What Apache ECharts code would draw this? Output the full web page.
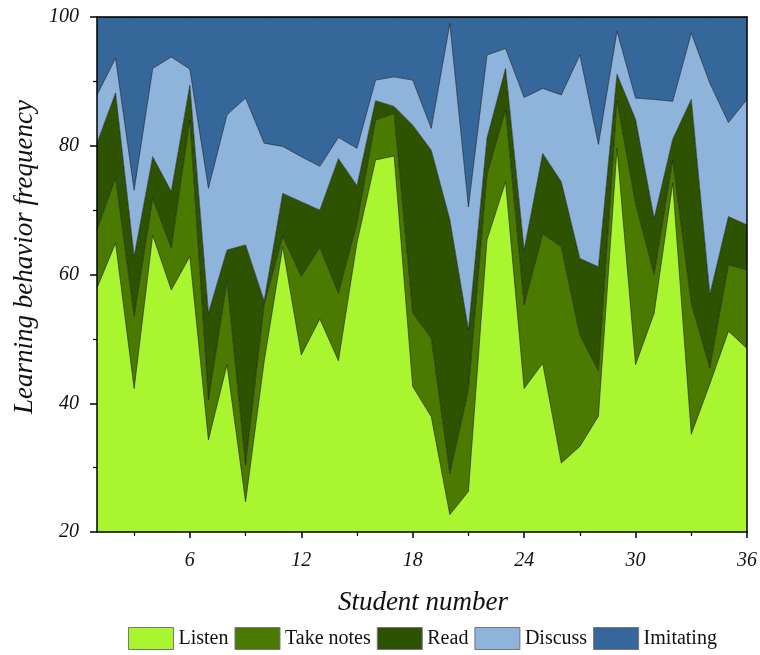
<!DOCTYPE html>
<html>
<head>
<meta charset="utf-8">
<script src="https://cdn.jsdelivr.net/npm/echarts@6/dist/echarts.min.js"></script>
<style>
html,body{margin:0;padding:0;background:#fff;}
#chart{width:760px;height:655px;}
</style>
</head>
<body>
<div id="chart"></div>
<script>
var students = [];
for (var i = 1; i <= 36; i++) students.push(String(i));

var listen    = [57.9,64.9,42.3,66.1,57.6,62.8,34.3,46.0,24.7,46.5,64.3,47.5,53.1,46.6,65.0,77.8,78.4,42.6,37.9,22.7,26.3,65.4,74.4,42.3,46.2,30.7,33.3,38.0,79.6,46.0,54.0,74.2,35.2,43.0,51.2,48.5];
var takeNotes = [9.0,10.1,11.2,5.7,6.5,21.2,6.2,12.9,5.7,8.8,1.6,12.2,11.1,10.5,3.0,6.2,6.6,11.4,12.2,6.4,15.8,10.1,11.2,13.0,20.1,33.6,17.3,7.0,7.4,25.0,6.0,3.6,20.3,2.5,10.3,12.2];
var read      = [13.5,13.2,9.3,6.5,8.8,5.4,13.5,4.9,34.2,0.6,6.7,11.6,5.8,20.9,5.8,3.0,1.1,29.2,29.2,39.4,9.3,5.7,6.4,8.5,12.5,10.1,11.9,16.2,4.1,13.1,8.7,3.2,31.7,11.4,7.5,7.0];
var discuss   = [7.5,5.4,10.3,13.7,20.9,2.5,19.4,21.0,22.8,24.5,7.3,7.0,6.8,3.3,5.8,3.2,4.6,7.0,3.4,30.5,19.1,12.9,3.1,23.7,10.1,13.5,31.6,19.0,6.7,3.3,18.5,5.9,10.3,32.8,14.6,19.5];
var imitating = [12.1,6.4,26.9,8.0,6.2,8.1,26.6,15.2,12.6,19.6,20.1,21.7,23.2,18.7,20.4,9.8,9.3,9.8,17.3,1.0,29.5,5.9,4.9,12.5,11.1,12.1,5.9,19.8,2.2,12.6,12.8,13.1,2.5,10.3,16.4,12.8];

var seriesNames = ['Listen','Take notes','Read','Discuss','Imitating'];
var seriesData = [listen, takeNotes, read, discuss, imitating];
var colors = ['#a9f52f','#4a7b00','#2d5200','#8fb4dc','#35679b'];

var xLabelStep = 6;
var xMinorStep = 3;

var FONT = '"Liberation Serif", "Times New Roman", serif';

var series = seriesData.map(function(arr, k){
  return {
    name: seriesNames[k],
    type: 'line',
    stack: 'total',
    data: arr,
    symbol: 'none',
    smooth: false,
    color: colors[k],
    lineStyle: { width: 0.8, color: 'rgba(20,20,20,0.75)' },
    areaStyle: { color: colors[k], opacity: 1 },
    emphasis: { disabled: true },
    z: 2
  };
});

function isMajor(idx){ return (idx + 1) % xLabelStep === 0; }
function isMinor(idx){ return (idx + 1) % xMinorStep === 0 && !isMajor(idx); }

var chart = echarts.init(document.getElementById('chart'), null, {renderer: 'canvas'});
chart.setOption({
  animation: false,
  backgroundColor: '#ffffff',
  grid: { left: 97, right: 11, top: 17, bottom: 123, containLabel: false },
  graphic: [
    {
      type: 'text', x: 25, y: 257, rotation: Math.PI / 2, z: 10,
      style: { text: 'Learning behavior frequency', font: 'italic 27px ' + FONT, fill: '#111', align: 'center', verticalAlign: 'middle' }
    },
    {
      type: 'text', x: 423, y: 603, z: 10,
      style: { text: 'Student number', font: 'italic 27px ' + FONT, fill: '#111', align: 'center', verticalAlign: 'middle' }
    }
  ],
  legend: {
    data: seriesNames.map(function(n, k){ return { name: n, itemStyle: { color: colors[k], borderColor: '#777', borderWidth: 1 } }; }),
    left: 123, top: 622,
    icon: 'rect',
    itemWidth: 45, itemHeight: 22, itemGap: 6,
    textStyle: { fontFamily: FONT, fontSize: 20, color: '#111' }
  },
  xAxis: [
    {
      type: 'category', data: students, boundaryGap: false, position: 'bottom', z: 5,
      axisLine: { show: true, onZero: false, lineStyle: { color: '#000', width: 1.5 } },
      axisTick: { show: true, interval: function(idx){ return isMajor(idx); }, length: 6, lineStyle: { color: '#000', width: 1.5 } },
      axisLabel: { show: true, interval: function(idx){ return isMajor(idx); }, margin: 19, fontFamily: FONT, fontSize: 20, fontStyle: 'italic', color: '#111' },
      splitLine: { show: false }
    },
    {
      type: 'category', data: students, boundaryGap: false, position: 'bottom', z: 5,
      axisLine: { show: false },
      axisTick: { show: true, interval: function(idx){ return isMinor(idx); }, length: 4, lineStyle: { color: '#000', width: 1.2 } },
      axisLabel: { show: false },
      splitLine: { show: false }
    },
    {
      type: 'category', data: students, boundaryGap: false, position: 'top', z: 5,
      axisLine: { show: true, onZero: false, lineStyle: { color: '#000', width: 1.5 } },
      axisTick: { show: false }, axisLabel: { show: false }, splitLine: { show: false }
    }
  ],
  yAxis: [
    {
      type: 'value', min: 20, max: 100, interval: 20, position: 'left', z: 5,
      axisLine: { show: true, onZero: false, lineStyle: { color: '#000', width: 1.5 } },
      axisTick: { show: true, length: 7, lineStyle: { color: '#000', width: 1.5 } },
      minorTick: { show: true, splitNumber: 2, length: 4, lineStyle: { color: '#000', width: 1.2 } },
      axisLabel: { margin: 18, fontFamily: FONT, fontSize: 20, fontStyle: 'italic', color: '#111' },
      splitLine: { show: false }
    },
    {
      type: 'value', min: 20, max: 100, interval: 20, position: 'right', z: 5,
      axisLine: { show: true, onZero: false, lineStyle: { color: '#000', width: 1.5 } },
      axisTick: { show: false }, axisLabel: { show: false }, splitLine: { show: false }
    }
  ],
  series: series
});
</script>
</body>
</html>
